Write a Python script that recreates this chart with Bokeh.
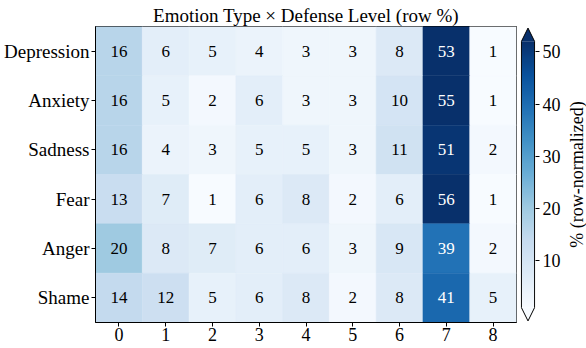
import numpy as np
from bokeh.plotting import figure
from bokeh.models import LinearColorMapper, FixedTicker, ColumnDataSource, Range1d
from bokeh.layouts import row
from bokeh.palettes import Blues256
from bokeh.embed import file_html
from bokeh.resources import INLINE
from bokeh.core.properties import value

# ---------------- data ----------------
emotions = ["Depression", "Anxiety", "Sadness", "Fear", "Anger", "Shame"]
levels = ["0", "1", "2", "3", "4", "5", "6", "7", "8"]
depression = [16, 6, 5, 4, 3, 3, 8, 53, 1]
anxiety = [16, 5, 2, 6, 3, 3, 10, 55, 1]
sadness = [16, 4, 3, 5, 5, 3, 11, 51, 2]
fear = [13, 7, 1, 6, 8, 2, 6, 56, 1]
anger = [20, 8, 7, 6, 6, 3, 9, 39, 2]
shame = [14, 12, 5, 6, 8, 2, 8, 41, 5]
matrix = [depression, anxiety, sadness, fear, anger, shame]
cb_ticks = [10, 20, 30, 40, 50]
vmin, vmax = 1, 52
title = "Emotion Type × Defense Level (row %)"
cb_label = "% (row-normalized)"

FONT = "Liberation Serif"
palette = list(reversed(Blues256))
mapper = LinearColorMapper(palette=palette, low=vmin, high=vmax,
                           low_color=palette[0], high_color=palette[-1])

xs, ys, vals = [], [], []
for e, rv in zip(emotions, matrix):
    for lv, v in zip(levels, rv):
        xs.append(lv)
        ys.append(e)
        vals.append(v)
tcol = ["white" if (v - vmin) / (vmax - vmin) > 0.5 else "black" for v in vals]
src = ColumnDataSource(dict(x=xs, y=ys, v=vals, label=[str(v) for v in vals], tc=tcol))

TOP, BOTTOM = 26, 26
H = 348

p = figure(x_range=levels, y_range=list(reversed(emotions)), width=518, height=H,
           output_backend="svg", toolbar_location=None, title=title,
           min_border_top=TOP, min_border_bottom=BOTTOM, min_border_left=95,
           min_border_right=2)
p.rect(x="x", y="y", width=1, height=1, source=src,
       fill_color={"field": "v", "transform": mapper},
       line_color={"field": "v", "transform": mapper}, line_width=0.5)
p.text(x="x", y="y", text="label", text_color="tc", source=src,
       text_align="center", text_baseline="middle",
       text_font=value(FONT), text_font_size="17px")

p.title.text_font = FONT
p.title.text_font_size = "19px"
p.title.text_font_style = "normal"
p.title.text_color = "black"
p.title.align = "center"
p.title.standoff = 2
p.grid.visible = False
p.outline_line_color = "black"
p.outline_line_alpha = 1
p.outline_line_width = 1
for ax in (p.xaxis, p.yaxis):
    ax.major_label_text_font = FONT
    ax.major_tick_in = 0
    ax.major_tick_out = 4
    ax.major_tick_line_color = "black"
    ax.axis_line_color = "black"
    ax.major_label_text_color = "black"
p.xaxis.major_label_text_font_size = "18px"
p.xaxis.major_label_standoff = 1
p.yaxis.major_label_text_font_size = "19px"
p.yaxis.major_label_standoff = 2

# ---------------- colorbar ----------------
ext = 0.05 * (vmax - vmin)
c = figure(width=45, height=H, x_range=Range1d(-0.07, 1.07),
           y_range=Range1d(vmin - ext - 0.3, vmax + ext + 0.3),
           output_backend="svg", toolbar_location=None,
           min_border_top=TOP, min_border_bottom=BOTTOM, min_border_left=2,
           min_border_right=26, x_axis_location=None, y_axis_location="right")
grad = np.linspace(vmin, vmax, 256).reshape(-1, 1)
c.image(image=[grad], x=0, y=vmin, dw=1, dh=vmax - vmin, color_mapper=mapper)
c.patch([0, 0.5, 1], [vmax, vmax + ext, vmax], fill_color=palette[-1], line_color=None)
c.patch([0, 0.5, 1], [vmin, vmin - ext, vmin], fill_color=palette[0], line_color=None)
c.line([0, 0, 0.5, 1, 1, 0.5, 0], [vmin, vmax, vmax + ext, vmax, vmin, vmin - ext, vmin],
       line_color="black", line_width=1)
c.grid.visible = False
c.outline_line_color = None
c.yaxis.ticker = FixedTicker(ticks=cb_ticks)
c.yaxis.axis_line_color = None
c.yaxis.major_tick_in = 0
c.yaxis.major_tick_out = 4
c.yaxis.major_tick_line_color = "black"
c.yaxis.major_label_standoff = 3
c.yaxis.major_label_text_font = FONT
c.yaxis.major_label_text_font_size = "18px"
c.yaxis.major_label_text_color = "black"

# ---------------- colorbar label (left-axis label of a slim panel) ----------------
lab = figure(width=23, height=H, x_range=Range1d(0, 1), y_range=Range1d(0, 1),
             output_backend="svg", toolbar_location=None,
             min_border_top=TOP, min_border_bottom=BOTTOM, min_border_left=0,
             min_border_right=0, x_axis_location=None, y_axis_location="left")
lab.grid.visible = False
lab.outline_line_color = None
lab.yaxis.ticker = FixedTicker(ticks=[])
lab.yaxis.axis_line_color = None
lab.yaxis.major_tick_out = 0
lab.yaxis.major_tick_in = 0
lab.yaxis.major_label_standoff = 0
lab.yaxis.axis_label = cb_label
lab.yaxis.axis_label_standoff = 0
lab.yaxis.axis_label_text_font = FONT
lab.yaxis.axis_label_text_font_size = "18px"
lab.yaxis.axis_label_text_font_style = "normal"
lab.yaxis.axis_label_text_color = "black"

layout = row(p, c, lab)
open("out.html", "w").write(file_html(layout, INLINE))
